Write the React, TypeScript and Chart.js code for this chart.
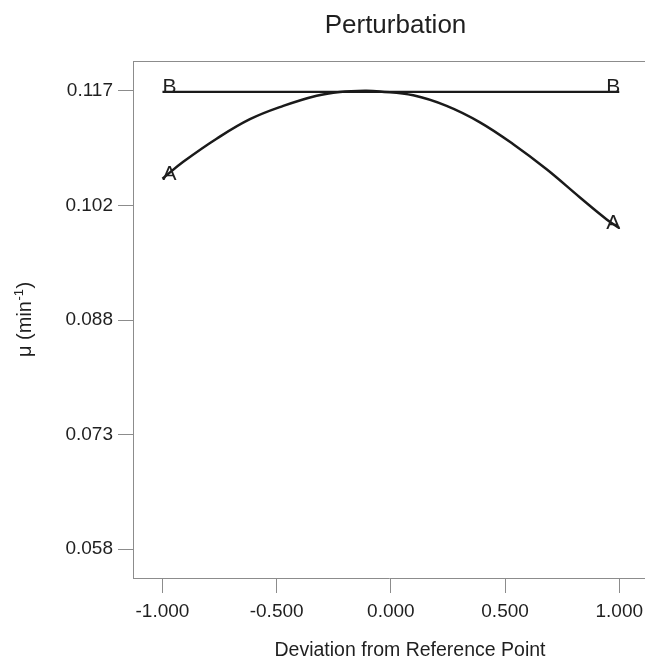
import React, { useEffect, useRef } from "react";
import { Chart, registerables } from "chart.js";

Chart.register(...registerables);

const chartTitle = "Perturbation";
const xAxisTitle = "Deviation from Reference Point";
const yAxisTitleMain = "μ (min";
const yAxisTitleSup = "-1";
const yAxisTitleEnd = ")";

const xTicks = [-1, -0.5, 0, 0.5, 1];
const yTicks = [0.05828, 0.07291, 0.08754, 0.10217, 0.1168];
const X_MIN = -1.129;
const X_MAX = 1.1127;
const Y_MIN = 0.05461;
const Y_MAX = 0.12063;

const seriesNames = ["A", "B"];
const curveAX = [-1, -0.909, -0.763, -0.617, -0.471, -0.325, -0.223, -0.113, -0.048, 0.098, 0.244, 0.39, 0.536, 0.682, 0.828, 0.945, 1];
const curveAY = [0.1056, 0.10775, 0.1107, 0.1132, 0.1149, 0.1162, 0.11668, 0.11684, 0.11675, 0.11625, 0.1149, 0.1128, 0.11, 0.1068, 0.1032, 0.1004, 0.0993];
const curveBX = [-1, 1];
const curveBY = [0.1167, 0.1167];

const FONT = "'Liberation Sans', Arial, Helvetica, sans-serif";
const AXIS_GRAY = "#8c8c8c";
const TEXT = "#1f1f1f";
const LINE = "#1a1a1a";

const textPlugin = {
  id: "textPlugin",
  afterDraw(chart: any) {
    const { ctx, chartArea, scales } = chart;
    ctx.save();
    // top frame line
    ctx.strokeStyle = AXIS_GRAY;
    ctx.lineWidth = 1;
    ctx.beginPath();
    ctx.moveTo(chartArea.left, chartArea.top + 0.5);
    ctx.lineTo(chartArea.right, chartArea.top + 0.5);
    ctx.stroke();

    ctx.fillStyle = TEXT;
    // title
    ctx.font = `26px ${FONT}`;
    ctx.textAlign = "center";
    ctx.textBaseline = "alphabetic";
    ctx.fillText(chartTitle, 395.5, 33);

    // x axis title
    ctx.font = `19.5px ${FONT}`;
    ctx.fillText(xAxisTitle, 410, 656);

    // y axis title (rotated, with superscript)
    ctx.save();
    ctx.translate(31, 357);
    ctx.rotate(-Math.PI / 2);
    ctx.textAlign = "left";
    ctx.font = `20px ${FONT}`;
    const w1 = ctx.measureText(yAxisTitleMain).width;
    ctx.fillText(yAxisTitleMain, 0, 0);
    ctx.font = `13px ${FONT}`;
    const w2 = ctx.measureText(yAxisTitleSup).width;
    ctx.fillText(yAxisTitleSup, w1 + 0.5, -8);
    ctx.font = `20px ${FONT}`;
    ctx.fillText(yAxisTitleEnd, w1 + w2 + 1, 0);
    ctx.restore();

    // series end labels
    ctx.font = `21px ${FONT}`;
    chart.data.datasets.forEach((ds: any, i: number) => {
      const pts = ds.data;
      const first = pts[0];
      const last = pts[pts.length - 1];
      const name = seriesNames[i];
      ctx.textAlign = "left";
      ctx.fillText(name, scales.x.getPixelForValue(first.x), scales.y.getPixelForValue(first.y) + 1);
      ctx.textAlign = "right";
      ctx.fillText(name, scales.x.getPixelForValue(last.x) + 1, scales.y.getPixelForValue(last.y) + 1);
    });
    ctx.restore();
  },
};

export default function App() {
  const ref = useRef<HTMLCanvasElement>(null);
  useEffect(() => {
    const canvas = ref.current;
    if (!canvas) return;
    const chart = new Chart(canvas, {
      type: "scatter",
      data: {
        datasets: [
          {
            label: seriesNames[0],
            data: curveAX.map((x, i) => ({ x, y: curveAY[i] })),
            showLine: true,
            borderColor: LINE,
            borderWidth: 2.5,
            pointRadius: 0,
            tension: 0.4,
          },
          {
            label: seriesNames[1],
            data: curveBX.map((x, i) => ({ x, y: curveBY[i] })),
            showLine: true,
            borderColor: LINE,
            borderWidth: 2.2,
            pointRadius: 0,
          },
        ],
      },
      options: {
        responsive: false,
        animation: false,
        layout: { padding: { top: 61, left: 0, right: 0, bottom: 0 } },
        plugins: {
          legend: { display: false },
          title: { display: false },
          tooltip: { enabled: false },
        },
        scales: {
          x: {
            type: "linear",
            min: X_MIN,
            max: X_MAX,
            afterBuildTicks: (s: any) => {
              s.ticks = xTicks.map((v) => ({ value: v }));
            },
            afterFit: (s: any) => {
              s.height = 79;
              s.paddingLeft = 0;
              s.paddingRight = 0;
            },
            grid: { drawOnChartArea: false, drawTicks: true, tickLength: 15, color: AXIS_GRAY, tickColor: AXIS_GRAY },
            border: { display: true, color: AXIS_GRAY, width: 1 },
            ticks: {
              callback: (v: any) => Number(v).toFixed(3),
              font: { family: FONT, size: 19 },
              color: TEXT,
              padding: 7,
              maxRotation: 0,
              autoSkip: false,
            },
          },
          y: {
            type: "linear",
            min: Y_MIN,
            max: Y_MAX,
            afterBuildTicks: (s: any) => {
              s.ticks = yTicks.map((v) => ({ value: v }));
            },
            afterFit: (s: any) => {
              s.width = 133;
              s.paddingTop = 0;
              s.paddingBottom = 0;
            },
            grid: { drawOnChartArea: false, drawTicks: true, tickLength: 15, color: AXIS_GRAY, tickColor: AXIS_GRAY },
            border: { display: true, color: AXIS_GRAY, width: 1 },
            ticks: {
              callback: (v: any) => Number(v).toFixed(3),
              font: { family: FONT, size: 19 },
              color: TEXT,
              padding: 5,
              autoSkip: false,
            },
          },
        },
      },
      plugins: [textPlugin],
    } as any);
    return () => chart.destroy();
  }, []);
  return (
    <div style={{ position: "absolute", left: 0, top: 0, width: 645, height: 657, background: "#fff" }}>
      <canvas ref={ref} width={645} height={657} style={{ display: "block" }} />
    </div>
  );
}
